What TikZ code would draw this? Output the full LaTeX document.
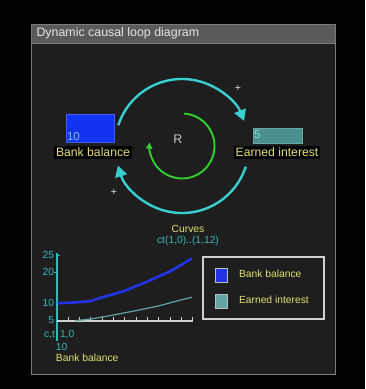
\documentclass[tikz,border=0pt]{standalone}
\usepackage{fontspec}
\setmainfont{Liberation Sans}
\usetikzlibrary{arrows.meta}
\definecolor{panelbg}{HTML}{1E1E1E}
\definecolor{panelborder}{HTML}{7C7C7C}
\definecolor{titlebg}{HTML}{5A5A5A}
\definecolor{titletext}{HTML}{E4E4E4}
\definecolor{loopcyan}{HTML}{38CFCF}
\definecolor{loopgreen}{HTML}{30D030}
\definecolor{labelyellow}{HTML}{E2E070}
\definecolor{bankblue}{HTML}{1234F2}
\definecolor{earnteal}{HTML}{4A8E8E}
\definecolor{valblue}{HTML}{88BBFF}
\definecolor{valcyan}{HTML}{80E0E0}
\definecolor{axiscyan}{HTML}{38B8B8}
\definecolor{axisgray}{HTML}{D0D0D0}
\definecolor{curveblue}{HTML}{2234E6}
\definecolor{curveteal}{HTML}{62A4A4}
\tikzset{
  txt/.style={inner sep=0pt, outer sep=0pt, font=\fontsize{11.5}{13}\selectfont},
  smalltxt/.style={inner sep=0pt, outer sep=0pt, font=\fontsize{10.3}{12}\selectfont},
  varlabel/.style={fill=black, text=labelyellow, inner xsep=2pt, inner ysep=2pt, outer sep=0pt, font=\fontsize{12.2}{14}\selectfont},
  cyanlink/.style={draw=loopcyan, line width=2.4pt, -{Triangle[length=11pt,width=12pt]}},
  greenloop/.style={draw=loopgreen, line width=1.9pt, -{Triangle[length=6pt,width=6.5pt]}},
  plussign/.style={inner sep=0pt, outer sep=0pt, text=white!85!black, font=\fontsize{10.5}{12}\selectfont},
}
\begin{document}
\begin{tikzpicture}[x=1pt,y=1pt]
\useasboundingbox (0,0) rectangle (365,-389);
\fill[black] (0,0) rectangle (365,-389);
% panel
\draw[draw=panelborder, line width=1pt, fill=panelbg] (31.5,-24.5) rectangle (335.5,-374);
\fill[titlebg] (32,-25) rectangle (335,-43);
\draw[panelborder, line width=0.8pt] (32,-43) -- (335,-43);
\node[txt, text=titletext, anchor=west, font=\fontsize{12.4}{14}\selectfont] (title) at (36.5,-33.5) {Dynamic causal loop diagram};

% variables
\node[draw=bankblue!80!white, fill=bankblue, minimum width=48pt, minimum height=28pt, inner sep=0pt] (bank) at (90,-128) {};
\node[txt, text=valblue, anchor=south west] (bankval) at (67,-141) {10};
\node[varlabel] (banklabel) at (93,-152.5) {Bank balance};
\node[draw=earnteal!80!white, fill=earnteal, minimum width=49pt, minimum height=15pt, inner sep=0pt] (earn) at (277.5,-135.5) {};
\node[txt, text=valcyan, anchor=west] (earnval) at (254,-135) {5};
\node[varlabel] (earnlabel) at (277,-152.5) {Earned interest};

% loop arcs
\coordinate (ctr) at (182,-146);
\coordinate (upstart) at ([shift={(162:67)}]ctr);
\coordinate (lowstart) at ([shift={(-18:67)}]ctr);
\coordinate (greenstart) at ([shift={(86:32.5)}]ctr);
\draw[cyanlink] (upstart) arc[start angle=162, end angle=22, radius=67];
\draw[cyanlink] (lowstart) arc[start angle=-18, end angle=-163, radius=67];
\draw[greenloop] (greenstart) arc[start angle=86, end angle=-186, radius=32.5];
\node[plussign] (plus1) at (238,-88) {+};
\node[plussign] (plus2) at (114,-192) {+};
\node[txt, text=white!78!black, font=\fontsize{12.5}{14}\selectfont] (R) at (178,-139) {R};

% chart caption
\node[smalltxt, text=labelyellow] (curves) at (188,-229) {Curves};
\node[smalltxt, text=axiscyan] (ctrange) at (188,-241) {ct(1,0)..(1,12)};

% axes
\draw[axiscyan, line width=1.2pt] (57,-253) -- (57,-341);
\draw[axiscyan, line width=1pt] (57,-255) -- (60,-255);
\draw[axiscyan, line width=1pt] (57,-272) -- (54,-272);
\draw[axisgray, line width=1.5pt] (57,-321) -- (193,-321);
\foreach \k in {1,...,12}{
  \draw[axisgray, line width=1pt] ({57+11.33*\k},-321) -- ({57+11.33*\k},-317);
}
\node[smalltxt, text=axiscyan, anchor=east] (y25) at (54,-255) {25};
\node[smalltxt, text=axiscyan, anchor=east] (y20) at (54,-272) {20};
\node[smalltxt, text=axiscyan, anchor=east] (y10) at (54,-303) {10};
\node[smalltxt, text=axiscyan, anchor=east] (y5) at (54,-320) {5};
\node[smalltxt, text=axiscyan, anchor=east] (ct) at (55,-335) {c,t};
\node[smalltxt, text=axiscyan, anchor=west] (t10) at (60,-335) {1,0};
\node[smalltxt, text=axiscyan, anchor=west] (v10) at (56,-346.5) {10};
\node[smalltxt, text=labelyellow, anchor=west] (xlabel) at (56,-357.5) {Bank balance};

% curves
\draw[curveteal, line width=1.2pt] (75,-320.7) -- (91,-319) -- (113.3,-315) -- (135.7,-310.7) -- (158.3,-306) -- (180.7,-300) -- (192,-297.3);
\draw[curveblue, line width=2.6pt, line join=round] (57.5,-303.3) -- (69.3,-302.7) -- (80,-302) -- (91,-301) -- (102,-297.3) -- (113.3,-294.3) -- (124.3,-291) -- (135.7,-286.3) -- (147,-281.7) -- (158.3,-276.7) -- (169.3,-271.7) -- (180.7,-265.3) -- (192,-258.3);

% legend
\draw[axisgray, line width=1.2pt] (203,-257) rectangle (324,-319);
\node[draw=white!75!black, line width=0.8pt, fill=curveblue, minimum width=12pt, minimum height=14pt, inner sep=0pt] (legb) at (221,-275) {};
\node[draw=white!75!black, line width=0.8pt, fill=curveteal, minimum width=12pt, minimum height=14pt, inner sep=0pt] (legt) at (221,-301) {};
\node[smalltxt, text=labelyellow, anchor=west] (legbtxt) at (239,-274) {Bank balance};
\node[smalltxt, text=labelyellow, anchor=west] (legttxt) at (239,-300) {Earned interest};
\end{tikzpicture}
\end{document}
